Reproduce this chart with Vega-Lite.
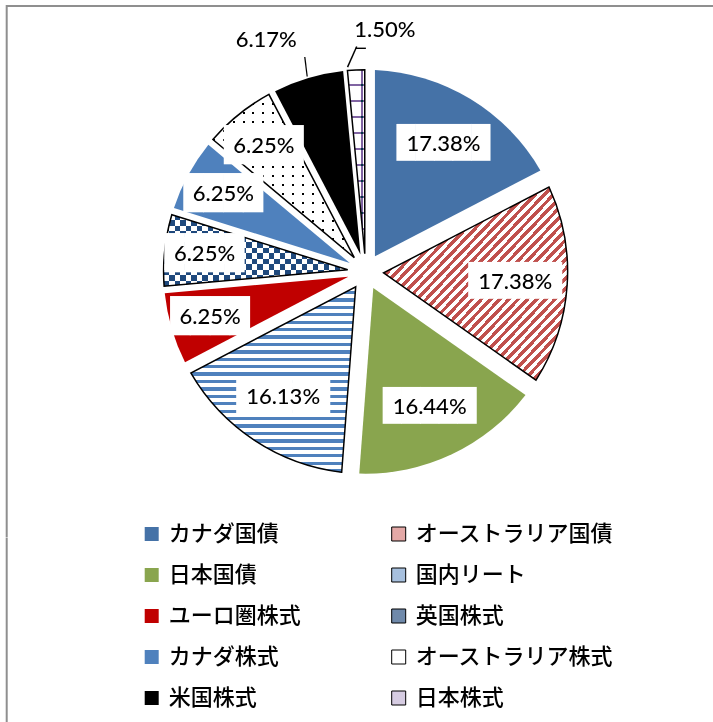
{
"$schema": "https://vega.github.io/schema/vega-lite/v6.json",
"background": "white",
"padding": {"left": 5.7, "top": 5, "right": 0, "bottom": 0},
"spacing": 0,
"bounds": "flush",
"config": {
  "view": {"stroke": "#8f8f8f", "strokeWidth": 2},
  "legend": {"orient": "none", "legendX": 134, "legendY": 517, "columns": 2, "direction": "horizontal", "symbolType": "square", "symbolSize": 196, "symbolStrokeWidth": 1, "labelFont": "Noto Sans CJK JP", "labelFontSize": 22, "labelFontWeight": 500, "labelColor": "#000000", "labelOffset": 6, "rowPadding": 19, "columnPadding": 86, "labelLimit": 400, "padding": 0}
},
"data": {"values": [
  {"name": "カナダ国債", "share": 0.1738},
  {"name": "オーストラリア国債", "share": 0.1738},
  {"name": "日本国債", "share": 0.1644},
  {"name": "国内リート", "share": 0.1613},
  {"name": "ユーロ圏株式", "share": 0.0625},
  {"name": "英国株式", "share": 0.0625},
  {"name": "カナダ株式", "share": 0.0625},
  {"name": "オーストラリア株式", "share": 0.0625},
  {"name": "米国株式", "share": 0.0617},
  {"name": "日本株式", "share": 0.015}
]},
"transform": [{"window": [{"op": "row_number", "as": "k"}]}],
"vconcat": [
{
  "width": 717.8, "height": 531.4,
  "view": {"stroke": "#8f8f8f", "strokeWidth": 2, "strokeDash": [1249.2, 717.8, 540, 0]},
  "encoding": {
    "theta": {"field": "share", "type": "quantitative", "stack": true},
    "order": {"field": "k", "type": "quantitative"},
    "detail": {"field": "name", "type": "nominal"}
  },
  "layer": [
    {
      "mark": {"type": "arc", "radius": 202, "radius2": 18, "padAngle": {"expr": "2*asin(18*sin(PI*datum.share)/202.8)"}},
      "encoding": {
        "fill": {"field": "name", "type": "nominal", "legend": {"title": null},
          "scale": {"domain": ["カナダ国債", "オーストラリア国債", "日本国債", "国内リート", "ユーロ圏株式", "英国株式", "カナダ株式", "オーストラリア株式", "米国株式", "日本株式"],
            "range": ["#4572a7", "#e3a8a6", "#89a54e", "#a7c0de", "#c00000", "#6f89aa", "#4f81bd", "#ffffff", "#000000", "#d6cce2"]}}
      }
    },
    {
      "mark": {"type": "arc", "radius": 202, "radius2": 18, "padAngle": {"expr": "2*asin(18*sin(PI*datum.share)/202.8)"}},
      "encoding": {
        "opacity": {"condition": {"test": "indexof(['オーストラリア国債','国内リート','英国株式','オーストラリア株式','日本株式'], datum.name) >= 0", "value": 1}, "value": 0},
        "fill": {"condition": [
          {"test": "datum.name === 'オーストラリア国債'", "value": {"gradient": "linear", "x1": 0, "y1": 0, "x2": 1, "y2": 1, "stops": [
            {"offset": 0, "color": "#c0504d"}, {"offset": 0.0125, "color": "#c0504d"}, {"offset": 0.0125, "color": "#ffffff"}, {"offset": 0.025, "color": "#ffffff"},
            {"offset": 0.025, "color": "#c0504d"}, {"offset": 0.0375, "color": "#c0504d"}, {"offset": 0.0375, "color": "#ffffff"}, {"offset": 0.05, "color": "#ffffff"},
            {"offset": 0.05, "color": "#c0504d"}, {"offset": 0.0625, "color": "#c0504d"}, {"offset": 0.0625, "color": "#ffffff"}, {"offset": 0.075, "color": "#ffffff"},
            {"offset": 0.075, "color": "#c0504d"}, {"offset": 0.0875, "color": "#c0504d"}, {"offset": 0.0875, "color": "#ffffff"}, {"offset": 0.1, "color": "#ffffff"},
            {"offset": 0.1, "color": "#c0504d"}, {"offset": 0.1125, "color": "#c0504d"}, {"offset": 0.1125, "color": "#ffffff"}, {"offset": 0.125, "color": "#ffffff"},
            {"offset": 0.125, "color": "#c0504d"}, {"offset": 0.1375, "color": "#c0504d"}, {"offset": 0.1375, "color": "#ffffff"}, {"offset": 0.15, "color": "#ffffff"},
            {"offset": 0.15, "color": "#c0504d"}, {"offset": 0.1625, "color": "#c0504d"}, {"offset": 0.1625, "color": "#ffffff"}, {"offset": 0.175, "color": "#ffffff"},
            {"offset": 0.175, "color": "#c0504d"}, {"offset": 0.1875, "color": "#c0504d"}, {"offset": 0.1875, "color": "#ffffff"}, {"offset": 0.2, "color": "#ffffff"},
            {"offset": 0.2, "color": "#c0504d"}, {"offset": 0.2125, "color": "#c0504d"}, {"offset": 0.2125, "color": "#ffffff"}, {"offset": 0.225, "color": "#ffffff"},
            {"offset": 0.225, "color": "#c0504d"}, {"offset": 0.2375, "color": "#c0504d"}, {"offset": 0.2375, "color": "#ffffff"}, {"offset": 0.25, "color": "#ffffff"},
            {"offset": 0.25, "color": "#c0504d"}, {"offset": 0.2625, "color": "#c0504d"}, {"offset": 0.2625, "color": "#ffffff"}, {"offset": 0.275, "color": "#ffffff"},
            {"offset": 0.275, "color": "#c0504d"}, {"offset": 0.2875, "color": "#c0504d"}, {"offset": 0.2875, "color": "#ffffff"}, {"offset": 0.3, "color": "#ffffff"},
            {"offset": 0.3, "color": "#c0504d"}, {"offset": 0.3125, "color": "#c0504d"}, {"offset": 0.3125, "color": "#ffffff"}, {"offset": 0.325, "color": "#ffffff"},
            {"offset": 0.325, "color": "#c0504d"}, {"offset": 0.3375, "color": "#c0504d"}, {"offset": 0.3375, "color": "#ffffff"}, {"offset": 0.35, "color": "#ffffff"},
            {"offset": 0.35, "color": "#c0504d"}, {"offset": 0.3625, "color": "#c0504d"}, {"offset": 0.3625, "color": "#ffffff"}, {"offset": 0.375, "color": "#ffffff"},
            {"offset": 0.375, "color": "#c0504d"}, {"offset": 0.3875, "color": "#c0504d"}, {"offset": 0.3875, "color": "#ffffff"}, {"offset": 0.4, "color": "#ffffff"},
            {"offset": 0.4, "color": "#c0504d"}, {"offset": 0.4125, "color": "#c0504d"}, {"offset": 0.4125, "color": "#ffffff"}, {"offset": 0.425, "color": "#ffffff"},
            {"offset": 0.425, "color": "#c0504d"}, {"offset": 0.4375, "color": "#c0504d"}, {"offset": 0.4375, "color": "#ffffff"}, {"offset": 0.45, "color": "#ffffff"},
            {"offset": 0.45, "color": "#c0504d"}, {"offset": 0.4625, "color": "#c0504d"}, {"offset": 0.4625, "color": "#ffffff"}, {"offset": 0.475, "color": "#ffffff"},
            {"offset": 0.475, "color": "#c0504d"}, {"offset": 0.4875, "color": "#c0504d"}, {"offset": 0.4875, "color": "#ffffff"}, {"offset": 0.5, "color": "#ffffff"},
            {"offset": 0.5, "color": "#c0504d"}, {"offset": 0.5125, "color": "#c0504d"}, {"offset": 0.5125, "color": "#ffffff"}, {"offset": 0.525, "color": "#ffffff"},
            {"offset": 0.525, "color": "#c0504d"}, {"offset": 0.5375, "color": "#c0504d"}, {"offset": 0.5375, "color": "#ffffff"}, {"offset": 0.55, "color": "#ffffff"},
            {"offset": 0.55, "color": "#c0504d"}, {"offset": 0.5625, "color": "#c0504d"}, {"offset": 0.5625, "color": "#ffffff"}, {"offset": 0.575, "color": "#ffffff"},
            {"offset": 0.575, "color": "#c0504d"}, {"offset": 0.5875, "color": "#c0504d"}, {"offset": 0.5875, "color": "#ffffff"}, {"offset": 0.6, "color": "#ffffff"},
            {"offset": 0.6, "color": "#c0504d"}, {"offset": 0.6125, "color": "#c0504d"}, {"offset": 0.6125, "color": "#ffffff"}, {"offset": 0.625, "color": "#ffffff"},
            {"offset": 0.625, "color": "#c0504d"}, {"offset": 0.6375, "color": "#c0504d"}, {"offset": 0.6375, "color": "#ffffff"}, {"offset": 0.65, "color": "#ffffff"},
            {"offset": 0.65, "color": "#c0504d"}, {"offset": 0.6625, "color": "#c0504d"}, {"offset": 0.6625, "color": "#ffffff"}, {"offset": 0.675, "color": "#ffffff"},
            {"offset": 0.675, "color": "#c0504d"}, {"offset": 0.6875, "color": "#c0504d"}, {"offset": 0.6875, "color": "#ffffff"}, {"offset": 0.7, "color": "#ffffff"},
            {"offset": 0.7, "color": "#c0504d"}, {"offset": 0.7125, "color": "#c0504d"}, {"offset": 0.7125, "color": "#ffffff"}, {"offset": 0.725, "color": "#ffffff"},
            {"offset": 0.725, "color": "#c0504d"}, {"offset": 0.7375, "color": "#c0504d"}, {"offset": 0.7375, "color": "#ffffff"}, {"offset": 0.75, "color": "#ffffff"},
            {"offset": 0.75, "color": "#c0504d"}, {"offset": 0.7625, "color": "#c0504d"}, {"offset": 0.7625, "color": "#ffffff"}, {"offset": 0.775, "color": "#ffffff"},
            {"offset": 0.775, "color": "#c0504d"}, {"offset": 0.7875, "color": "#c0504d"}, {"offset": 0.7875, "color": "#ffffff"}, {"offset": 0.8, "color": "#ffffff"},
            {"offset": 0.8, "color": "#c0504d"}, {"offset": 0.8125, "color": "#c0504d"}, {"offset": 0.8125, "color": "#ffffff"}, {"offset": 0.825, "color": "#ffffff"},
            {"offset": 0.825, "color": "#c0504d"}, {"offset": 0.8375, "color": "#c0504d"}, {"offset": 0.8375, "color": "#ffffff"}, {"offset": 0.85, "color": "#ffffff"},
            {"offset": 0.85, "color": "#c0504d"}, {"offset": 0.8625, "color": "#c0504d"}, {"offset": 0.8625, "color": "#ffffff"}, {"offset": 0.875, "color": "#ffffff"},
            {"offset": 0.875, "color": "#c0504d"}, {"offset": 0.8875, "color": "#c0504d"}, {"offset": 0.8875, "color": "#ffffff"}, {"offset": 0.9, "color": "#ffffff"},
            {"offset": 0.9, "color": "#c0504d"}, {"offset": 0.9125, "color": "#c0504d"}, {"offset": 0.9125, "color": "#ffffff"}, {"offset": 0.925, "color": "#ffffff"},
            {"offset": 0.925, "color": "#c0504d"}, {"offset": 0.9375, "color": "#c0504d"}, {"offset": 0.9375, "color": "#ffffff"}, {"offset": 0.95, "color": "#ffffff"},
            {"offset": 0.95, "color": "#c0504d"}, {"offset": 0.9625, "color": "#c0504d"}, {"offset": 0.9625, "color": "#ffffff"}, {"offset": 0.975, "color": "#ffffff"},
            {"offset": 0.975, "color": "#c0504d"}, {"offset": 0.9875, "color": "#c0504d"}, {"offset": 0.9875, "color": "#ffffff"}, {"offset": 1, "color": "#ffffff"}
          ]}},
          {"test": "datum.name === '国内リート'", "value": {"gradient": "linear", "x1": 0, "y1": 0, "x2": 0, "y2": 1, "stops": [
            {"offset": 0, "color": "#ffffff"}, {"offset": 0.022, "color": "#ffffff"}, {"offset": 0.022, "color": "#4f81bd"}, {"offset": 0.04, "color": "#4f81bd"},
            {"offset": 0.04, "color": "#ffffff"}, {"offset": 0.062, "color": "#ffffff"}, {"offset": 0.062, "color": "#4f81bd"}, {"offset": 0.08, "color": "#4f81bd"},
            {"offset": 0.08, "color": "#ffffff"}, {"offset": 0.102, "color": "#ffffff"}, {"offset": 0.102, "color": "#4f81bd"}, {"offset": 0.12, "color": "#4f81bd"},
            {"offset": 0.12, "color": "#ffffff"}, {"offset": 0.142, "color": "#ffffff"}, {"offset": 0.142, "color": "#4f81bd"}, {"offset": 0.16, "color": "#4f81bd"},
            {"offset": 0.16, "color": "#ffffff"}, {"offset": 0.182, "color": "#ffffff"}, {"offset": 0.182, "color": "#4f81bd"}, {"offset": 0.2, "color": "#4f81bd"},
            {"offset": 0.2, "color": "#ffffff"}, {"offset": 0.222, "color": "#ffffff"}, {"offset": 0.222, "color": "#4f81bd"}, {"offset": 0.24, "color": "#4f81bd"},
            {"offset": 0.24, "color": "#ffffff"}, {"offset": 0.262, "color": "#ffffff"}, {"offset": 0.262, "color": "#4f81bd"}, {"offset": 0.28, "color": "#4f81bd"},
            {"offset": 0.28, "color": "#ffffff"}, {"offset": 0.302, "color": "#ffffff"}, {"offset": 0.302, "color": "#4f81bd"}, {"offset": 0.32, "color": "#4f81bd"},
            {"offset": 0.32, "color": "#ffffff"}, {"offset": 0.342, "color": "#ffffff"}, {"offset": 0.342, "color": "#4f81bd"}, {"offset": 0.36, "color": "#4f81bd"},
            {"offset": 0.36, "color": "#ffffff"}, {"offset": 0.382, "color": "#ffffff"}, {"offset": 0.382, "color": "#4f81bd"}, {"offset": 0.4, "color": "#4f81bd"},
            {"offset": 0.4, "color": "#ffffff"}, {"offset": 0.422, "color": "#ffffff"}, {"offset": 0.422, "color": "#4f81bd"}, {"offset": 0.44, "color": "#4f81bd"},
            {"offset": 0.44, "color": "#ffffff"}, {"offset": 0.462, "color": "#ffffff"}, {"offset": 0.462, "color": "#4f81bd"}, {"offset": 0.48, "color": "#4f81bd"},
            {"offset": 0.48, "color": "#ffffff"}, {"offset": 0.502, "color": "#ffffff"}, {"offset": 0.502, "color": "#4f81bd"}, {"offset": 0.52, "color": "#4f81bd"},
            {"offset": 0.52, "color": "#ffffff"}, {"offset": 0.542, "color": "#ffffff"}, {"offset": 0.542, "color": "#4f81bd"}, {"offset": 0.56, "color": "#4f81bd"},
            {"offset": 0.56, "color": "#ffffff"}, {"offset": 0.582, "color": "#ffffff"}, {"offset": 0.582, "color": "#4f81bd"}, {"offset": 0.6, "color": "#4f81bd"},
            {"offset": 0.6, "color": "#ffffff"}, {"offset": 0.622, "color": "#ffffff"}, {"offset": 0.622, "color": "#4f81bd"}, {"offset": 0.64, "color": "#4f81bd"},
            {"offset": 0.64, "color": "#ffffff"}, {"offset": 0.662, "color": "#ffffff"}, {"offset": 0.662, "color": "#4f81bd"}, {"offset": 0.68, "color": "#4f81bd"},
            {"offset": 0.68, "color": "#ffffff"}, {"offset": 0.702, "color": "#ffffff"}, {"offset": 0.702, "color": "#4f81bd"}, {"offset": 0.72, "color": "#4f81bd"},
            {"offset": 0.72, "color": "#ffffff"}, {"offset": 0.742, "color": "#ffffff"}, {"offset": 0.742, "color": "#4f81bd"}, {"offset": 0.76, "color": "#4f81bd"},
            {"offset": 0.76, "color": "#ffffff"}, {"offset": 0.782, "color": "#ffffff"}, {"offset": 0.782, "color": "#4f81bd"}, {"offset": 0.8, "color": "#4f81bd"},
            {"offset": 0.8, "color": "#ffffff"}, {"offset": 0.822, "color": "#ffffff"}, {"offset": 0.822, "color": "#4f81bd"}, {"offset": 0.84, "color": "#4f81bd"},
            {"offset": 0.84, "color": "#ffffff"}, {"offset": 0.862, "color": "#ffffff"}, {"offset": 0.862, "color": "#4f81bd"}, {"offset": 0.88, "color": "#4f81bd"},
            {"offset": 0.88, "color": "#ffffff"}, {"offset": 0.902, "color": "#ffffff"}, {"offset": 0.902, "color": "#4f81bd"}, {"offset": 0.92, "color": "#4f81bd"},
            {"offset": 0.92, "color": "#ffffff"}, {"offset": 0.942, "color": "#ffffff"}, {"offset": 0.942, "color": "#4f81bd"}, {"offset": 0.96, "color": "#4f81bd"},
            {"offset": 0.96, "color": "#ffffff"}, {"offset": 0.982, "color": "#ffffff"}, {"offset": 0.982, "color": "#4f81bd"}, {"offset": 1, "color": "#4f81bd"}
          ]}},
          {"test": "datum.name === '英国株式'", "value": {"gradient": "linear", "x1": 0, "y1": 0, "x2": 0, "y2": 1, "stops": [
            {"offset": 0, "color": "#000000"}, {"offset": 0.077, "color": "#000000"}, {"offset": 0.077, "color": "#ffffff"}, {"offset": 0.154, "color": "#ffffff"},
            {"offset": 0.154, "color": "#000000"}, {"offset": 0.231, "color": "#000000"}, {"offset": 0.231, "color": "#ffffff"}, {"offset": 0.308, "color": "#ffffff"},
            {"offset": 0.308, "color": "#000000"}, {"offset": 0.385, "color": "#000000"}, {"offset": 0.385, "color": "#ffffff"}, {"offset": 0.462, "color": "#ffffff"},
            {"offset": 0.462, "color": "#000000"}, {"offset": 0.539, "color": "#000000"}, {"offset": 0.539, "color": "#ffffff"}, {"offset": 0.616, "color": "#ffffff"},
            {"offset": 0.616, "color": "#000000"}, {"offset": 0.693, "color": "#000000"}, {"offset": 0.693, "color": "#ffffff"}, {"offset": 0.77, "color": "#ffffff"},
            {"offset": 0.77, "color": "#000000"}, {"offset": 0.847, "color": "#000000"}, {"offset": 0.847, "color": "#ffffff"}, {"offset": 0.924, "color": "#ffffff"},
            {"offset": 0.924, "color": "#000000"}, {"offset": 1, "color": "#000000"}
          ]}},
          {"test": "datum.name === 'オーストラリア株式'", "value": {"gradient": "linear", "x1": 0, "y1": 0, "x2": 0, "y2": 1, "stops": [
            {"offset": 0, "color": "#000000"}, {"offset": 0.012, "color": "#000000"}, {"offset": 0.012, "color": "#ffffff"}, {"offset": 0.055, "color": "#ffffff"},
            {"offset": 0.055, "color": "#000000"}, {"offset": 0.067, "color": "#000000"}, {"offset": 0.067, "color": "#ffffff"}, {"offset": 0.11, "color": "#ffffff"},
            {"offset": 0.11, "color": "#000000"}, {"offset": 0.122, "color": "#000000"}, {"offset": 0.122, "color": "#ffffff"}, {"offset": 0.165, "color": "#ffffff"},
            {"offset": 0.165, "color": "#000000"}, {"offset": 0.177, "color": "#000000"}, {"offset": 0.177, "color": "#ffffff"}, {"offset": 0.22, "color": "#ffffff"},
            {"offset": 0.22, "color": "#000000"}, {"offset": 0.232, "color": "#000000"}, {"offset": 0.232, "color": "#ffffff"}, {"offset": 0.275, "color": "#ffffff"},
            {"offset": 0.275, "color": "#000000"}, {"offset": 0.287, "color": "#000000"}, {"offset": 0.287, "color": "#ffffff"}, {"offset": 0.33, "color": "#ffffff"},
            {"offset": 0.33, "color": "#000000"}, {"offset": 0.342, "color": "#000000"}, {"offset": 0.342, "color": "#ffffff"}, {"offset": 0.385, "color": "#ffffff"},
            {"offset": 0.385, "color": "#000000"}, {"offset": 0.397, "color": "#000000"}, {"offset": 0.397, "color": "#ffffff"}, {"offset": 0.44, "color": "#ffffff"},
            {"offset": 0.44, "color": "#000000"}, {"offset": 0.452, "color": "#000000"}, {"offset": 0.452, "color": "#ffffff"}, {"offset": 0.495, "color": "#ffffff"},
            {"offset": 0.495, "color": "#000000"}, {"offset": 0.507, "color": "#000000"}, {"offset": 0.507, "color": "#ffffff"}, {"offset": 0.55, "color": "#ffffff"},
            {"offset": 0.55, "color": "#000000"}, {"offset": 0.562, "color": "#000000"}, {"offset": 0.562, "color": "#ffffff"}, {"offset": 0.605, "color": "#ffffff"},
            {"offset": 0.605, "color": "#000000"}, {"offset": 0.617, "color": "#000000"}, {"offset": 0.617, "color": "#ffffff"}, {"offset": 0.66, "color": "#ffffff"},
            {"offset": 0.66, "color": "#000000"}, {"offset": 0.672, "color": "#000000"}, {"offset": 0.672, "color": "#ffffff"}, {"offset": 0.715, "color": "#ffffff"},
            {"offset": 0.715, "color": "#000000"}, {"offset": 0.727, "color": "#000000"}, {"offset": 0.727, "color": "#ffffff"}, {"offset": 0.77, "color": "#ffffff"},
            {"offset": 0.77, "color": "#000000"}, {"offset": 0.782, "color": "#000000"}, {"offset": 0.782, "color": "#ffffff"}, {"offset": 0.825, "color": "#ffffff"},
            {"offset": 0.825, "color": "#000000"}, {"offset": 0.837, "color": "#000000"}, {"offset": 0.837, "color": "#ffffff"}, {"offset": 0.88, "color": "#ffffff"},
            {"offset": 0.88, "color": "#000000"}, {"offset": 0.892, "color": "#000000"}, {"offset": 0.892, "color": "#ffffff"}, {"offset": 0.935, "color": "#ffffff"},
            {"offset": 0.935, "color": "#000000"}, {"offset": 0.947, "color": "#000000"}, {"offset": 0.947, "color": "#ffffff"}, {"offset": 1, "color": "#ffffff"}
          ]}}
        ],
        "value": {"gradient": "linear", "x1": 0, "y1": 0, "x2": 0, "y2": 1, "stops": [
            {"offset": 0, "color": "#ffffff"}, {"offset": 0.076, "color": "#ffffff"}, {"offset": 0.076, "color": "#8064a2"}, {"offset": 0.087, "color": "#8064a2"},
            {"offset": 0.087, "color": "#ffffff"}, {"offset": 0.163, "color": "#ffffff"}, {"offset": 0.163, "color": "#8064a2"}, {"offset": 0.174, "color": "#8064a2"},
            {"offset": 0.174, "color": "#ffffff"}, {"offset": 0.25, "color": "#ffffff"}, {"offset": 0.25, "color": "#8064a2"}, {"offset": 0.261, "color": "#8064a2"},
            {"offset": 0.261, "color": "#ffffff"}, {"offset": 0.337, "color": "#ffffff"}, {"offset": 0.337, "color": "#8064a2"}, {"offset": 0.348, "color": "#8064a2"},
            {"offset": 0.348, "color": "#ffffff"}, {"offset": 0.424, "color": "#ffffff"}, {"offset": 0.424, "color": "#8064a2"}, {"offset": 0.435, "color": "#8064a2"},
            {"offset": 0.435, "color": "#ffffff"}, {"offset": 0.511, "color": "#ffffff"}, {"offset": 0.511, "color": "#8064a2"}, {"offset": 0.522, "color": "#8064a2"},
            {"offset": 0.522, "color": "#ffffff"}, {"offset": 0.598, "color": "#ffffff"}, {"offset": 0.598, "color": "#8064a2"}, {"offset": 0.609, "color": "#8064a2"},
            {"offset": 0.609, "color": "#ffffff"}, {"offset": 0.685, "color": "#ffffff"}, {"offset": 0.685, "color": "#8064a2"}, {"offset": 0.696, "color": "#8064a2"},
            {"offset": 0.696, "color": "#ffffff"}, {"offset": 0.772, "color": "#ffffff"}, {"offset": 0.772, "color": "#8064a2"}, {"offset": 0.783, "color": "#8064a2"},
            {"offset": 0.783, "color": "#ffffff"}, {"offset": 0.859, "color": "#ffffff"}, {"offset": 0.859, "color": "#8064a2"}, {"offset": 0.87, "color": "#8064a2"},
            {"offset": 0.87, "color": "#ffffff"}, {"offset": 0.946, "color": "#ffffff"}, {"offset": 0.946, "color": "#8064a2"}, {"offset": 0.957, "color": "#8064a2"},
            {"offset": 0.957, "color": "#ffffff"}, {"offset": 1, "color": "#ffffff"}
        ]}}
      }
    },
    {
      "mark": {"type": "arc", "radius": 202, "radius2": 18, "blend": "difference", "padAngle": {"expr": "2*asin(18*sin(PI*datum.share)/202.8)"}},
      "encoding": {
        "opacity": {"condition": {"test": "datum.name === '英国株式' || datum.name === '日本株式'", "value": 1}, "value": 0},
        "fill": {"condition": {"test": "datum.name === '英国株式'", "value": {"gradient": "linear", "x1": 0, "y1": 0, "x2": 1, "y2": 0, "stops": [
            {"offset": 0, "color": "#000000"}, {"offset": 0.03, "color": "#000000"}, {"offset": 0.03, "color": "#ffffff"}, {"offset": 0.06, "color": "#ffffff"},
            {"offset": 0.06, "color": "#000000"}, {"offset": 0.09, "color": "#000000"}, {"offset": 0.09, "color": "#ffffff"}, {"offset": 0.12, "color": "#ffffff"},
            {"offset": 0.12, "color": "#000000"}, {"offset": 0.15, "color": "#000000"}, {"offset": 0.15, "color": "#ffffff"}, {"offset": 0.18, "color": "#ffffff"},
            {"offset": 0.18, "color": "#000000"}, {"offset": 0.21, "color": "#000000"}, {"offset": 0.21, "color": "#ffffff"}, {"offset": 0.24, "color": "#ffffff"},
            {"offset": 0.24, "color": "#000000"}, {"offset": 0.27, "color": "#000000"}, {"offset": 0.27, "color": "#ffffff"}, {"offset": 0.3, "color": "#ffffff"},
            {"offset": 0.3, "color": "#000000"}, {"offset": 0.33, "color": "#000000"}, {"offset": 0.33, "color": "#ffffff"}, {"offset": 0.36, "color": "#ffffff"},
            {"offset": 0.36, "color": "#000000"}, {"offset": 0.39, "color": "#000000"}, {"offset": 0.39, "color": "#ffffff"}, {"offset": 0.42, "color": "#ffffff"},
            {"offset": 0.42, "color": "#000000"}, {"offset": 0.45, "color": "#000000"}, {"offset": 0.45, "color": "#ffffff"}, {"offset": 0.48, "color": "#ffffff"},
            {"offset": 0.48, "color": "#000000"}, {"offset": 0.51, "color": "#000000"}, {"offset": 0.51, "color": "#ffffff"}, {"offset": 0.54, "color": "#ffffff"},
            {"offset": 0.54, "color": "#000000"}, {"offset": 0.57, "color": "#000000"}, {"offset": 0.57, "color": "#ffffff"}, {"offset": 0.6, "color": "#ffffff"},
            {"offset": 0.6, "color": "#000000"}, {"offset": 0.63, "color": "#000000"}, {"offset": 0.63, "color": "#ffffff"}, {"offset": 0.66, "color": "#ffffff"},
            {"offset": 0.66, "color": "#000000"}, {"offset": 0.69, "color": "#000000"}, {"offset": 0.69, "color": "#ffffff"}, {"offset": 0.72, "color": "#ffffff"},
            {"offset": 0.72, "color": "#000000"}, {"offset": 0.75, "color": "#000000"}, {"offset": 0.75, "color": "#ffffff"}, {"offset": 0.78, "color": "#ffffff"},
            {"offset": 0.78, "color": "#000000"}, {"offset": 0.81, "color": "#000000"}, {"offset": 0.81, "color": "#ffffff"}, {"offset": 0.84, "color": "#ffffff"},
            {"offset": 0.84, "color": "#000000"}, {"offset": 0.87, "color": "#000000"}, {"offset": 0.87, "color": "#ffffff"}, {"offset": 0.9, "color": "#ffffff"},
            {"offset": 0.9, "color": "#000000"}, {"offset": 0.93, "color": "#000000"}, {"offset": 0.93, "color": "#ffffff"}, {"offset": 0.96, "color": "#ffffff"},
            {"offset": 0.96, "color": "#000000"}, {"offset": 0.99, "color": "#000000"}, {"offset": 0.99, "color": "#ffffff"}, {"offset": 1, "color": "#ffffff"}
          ]}},
          "value": {"gradient": "linear", "x1": 0, "y1": 0, "x2": 1, "y2": 0, "stops": [
            {"offset": 0, "color": "#000000"}, {"offset": 0.78, "color": "#000000"}, {"offset": 0.78, "color": "#7f9b5d"}, {"offset": 0.9, "color": "#7f9b5d"}, {"offset": 0.9, "color": "#000000"}, {"offset": 1, "color": "#000000"}
          ]}}
      }
    },
    {
      "mark": {"type": "arc", "radius": 202, "radius2": 18, "blend": "screen", "padAngle": {"expr": "2*asin(18*sin(PI*datum.share)/202.8)"}},
      "encoding": {
        "opacity": {"condition": {"test": "datum.name === '英国株式' || datum.name === 'オーストラリア株式'", "value": 1}, "value": 0},
        "fill": {"condition": {"test": "datum.name === '英国株式'", "value": "#1f497d"},
          "value": {"gradient": "linear", "x1": 0, "y1": 0, "x2": 1, "y2": 0, "stops": [
            {"offset": 0, "color": "#000000"}, {"offset": 0.014, "color": "#000000"}, {"offset": 0.014, "color": "#ffffff"}, {"offset": 0.07, "color": "#ffffff"},
            {"offset": 0.07, "color": "#000000"}, {"offset": 0.084, "color": "#000000"}, {"offset": 0.084, "color": "#ffffff"}, {"offset": 0.14, "color": "#ffffff"},
            {"offset": 0.14, "color": "#000000"}, {"offset": 0.154, "color": "#000000"}, {"offset": 0.154, "color": "#ffffff"}, {"offset": 0.21, "color": "#ffffff"},
            {"offset": 0.21, "color": "#000000"}, {"offset": 0.224, "color": "#000000"}, {"offset": 0.224, "color": "#ffffff"}, {"offset": 0.28, "color": "#ffffff"},
            {"offset": 0.28, "color": "#000000"}, {"offset": 0.294, "color": "#000000"}, {"offset": 0.294, "color": "#ffffff"}, {"offset": 0.35, "color": "#ffffff"},
            {"offset": 0.35, "color": "#000000"}, {"offset": 0.364, "color": "#000000"}, {"offset": 0.364, "color": "#ffffff"}, {"offset": 0.42, "color": "#ffffff"},
            {"offset": 0.42, "color": "#000000"}, {"offset": 0.434, "color": "#000000"}, {"offset": 0.434, "color": "#ffffff"}, {"offset": 0.49, "color": "#ffffff"},
            {"offset": 0.49, "color": "#000000"}, {"offset": 0.504, "color": "#000000"}, {"offset": 0.504, "color": "#ffffff"}, {"offset": 0.56, "color": "#ffffff"},
            {"offset": 0.56, "color": "#000000"}, {"offset": 0.574, "color": "#000000"}, {"offset": 0.574, "color": "#ffffff"}, {"offset": 0.63, "color": "#ffffff"},
            {"offset": 0.63, "color": "#000000"}, {"offset": 0.644, "color": "#000000"}, {"offset": 0.644, "color": "#ffffff"}, {"offset": 0.7, "color": "#ffffff"},
            {"offset": 0.7, "color": "#000000"}, {"offset": 0.714, "color": "#000000"}, {"offset": 0.714, "color": "#ffffff"}, {"offset": 0.77, "color": "#ffffff"},
            {"offset": 0.77, "color": "#000000"}, {"offset": 0.784, "color": "#000000"}, {"offset": 0.784, "color": "#ffffff"}, {"offset": 0.84, "color": "#ffffff"},
            {"offset": 0.84, "color": "#000000"}, {"offset": 0.854, "color": "#000000"}, {"offset": 0.854, "color": "#ffffff"}, {"offset": 0.91, "color": "#ffffff"},
            {"offset": 0.91, "color": "#000000"}, {"offset": 0.924, "color": "#000000"}, {"offset": 0.924, "color": "#ffffff"}, {"offset": 0.98, "color": "#ffffff"},
            {"offset": 0.98, "color": "#000000"}, {"offset": 0.994, "color": "#000000"}, {"offset": 0.994, "color": "#ffffff"}, {"offset": 1, "color": "#ffffff"}
          ]}}
      }
    },
    {
      "mark": {"type": "arc", "radius": 202, "radius2": 18, "fill": "transparent", "strokeWidth": 1.5, "strokeJoin": "miter", "padAngle": {"expr": "2*asin(18*sin(PI*datum.share)/202.8)"}},
      "encoding": {
        "stroke": {"field": "name", "type": "nominal", "legend": {"title": null},
          "scale": {"domain": ["カナダ国債", "オーストラリア国債", "日本国債", "国内リート", "ユーロ圏株式", "英国株式", "カナダ株式", "オーストラリア株式", "米国株式", "日本株式"],
            "range": ["transparent", "#000000", "transparent", "#000000", "transparent", "#000000", "transparent", "#000000", "transparent", "#000000"]}}
      }
    },
    {
      "mark": {"type": "text", "font": "DejaVu Sans Mono", "fill": "#ffffff", "align": "center", "baseline": "middle", "radius": {"expr": "datum.share > 0.1 ? 150 : 162"}},
      "encoding": {
        "text": {"condition": {"test": "datum.share > 0.1", "value": "█████"}, "value": "████"},
        "size": {"condition": {"test": "datum.share > 0.1", "value": 31}, "value": 33},
        "opacity": {"condition": {"test": "datum.name === '米国株式' || datum.name === '日本株式'", "value": 0}, "value": 1}
      }
    },
    {
      "mark": {"type": "text", "font": "Lato", "fontSize": 22, "fontWeight": 500, "fill": "#000000", "baseline": "middle",
        "radius": {"expr": "datum.name === '米国株式' || datum.name === '日本株式' ? 242 : (datum.share > 0.1 ? 150 : 162)"},
        "align": {"expr": "datum.name === '日本株式' ? 'left' : (datum.name === '米国株式' ? 'right' : 'center')"}},
      "encoding": {
        "text": {"field": "share", "type": "quantitative", "format": ".2%"}
      }
    },
    {
      "mark": {"type": "text", "font": "DejaVu Sans Mono", "fill": "#000000", "align": "center", "baseline": "middle", "radius": 213,
        "angle": {"expr": "datum.name === '日本株式' ? 24 : -7"},
        "dx": {"expr": "datum.name === '日本株式' ? -4 : 1"}},
      "encoding": {
        "text": {"value": "│"},
        "size": {"condition": {"test": "datum.name === '日本株式'", "value": 19}, "value": 16.5},
        "opacity": {"condition": {"test": "datum.name === '米国株式' || datum.name === '日本株式'", "value": 1}, "value": 0}
      }
    },
    {
      "mark": {"type": "text", "font": "DejaVu Sans Mono", "fontSize": 16.6, "fill": "#000000", "align": "center", "baseline": "middle", "radius": 223.4, "dx": 5.6},
      "encoding": {
        "text": {"value": "─"},
        "opacity": {"condition": {"test": "datum.name === '日本株式'", "value": 1}, "value": 0}
      }
    }
  ]
},
{
  "width": 717.8, "height": 200,
  "view": {"stroke": "#8f8f8f", "strokeWidth": 2, "strokeDash": [0, 1635.6, 210, 0]},
  "mark": {"type": "point", "opacity": 0}
}
]
}
